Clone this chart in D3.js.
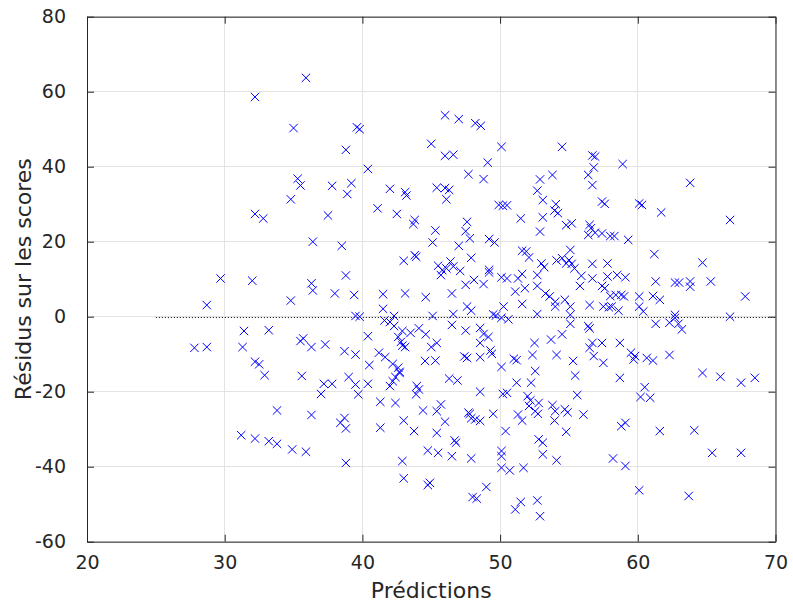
<!DOCTYPE html>
<html>
<head>
<meta charset="utf-8">
<script src="https://cdn.jsdelivr.net/npm/d3@7"></script>
<style>
  html, body { margin: 0; padding: 0; background: #fff; }
  svg { display: block; }
  text { font-family: "DejaVu Sans", sans-serif; fill: #262626; }
</style>
</head>
<body>
<svg id="chart" width="793" height="604"></svg>
<script>
// ---- data ----
const predictions = [
35.9,32.2,35.0,39.6,39.8,38.8,
46.0,47.0,48.2,48.6,45.0,46.0,46.6,49.1,
50.1,54.5,56.7,56.9,58.9,
35.3,35.5,37.8,39.2,38.9,34.8,32.2,32.8,37.5,36.4,38.5,38.8,29.7,32.0,36.3,36.4,38.0,39.4,34.8,28.7,39.5,39.8,
40.4,47.7,48.8,42.0,43.1,43.2,45.4,46.0,46.3,46.1,41.1,42.5,43.8,43.7,45.3,45.1,47.6,47.5,47.8,47.0,49.2,49.6,47.9,43.0,43.8,43.9,
45.5,46.4,46.6,46.1,47.1,45.7,45.8,
49.2,49.2,47.5,48.1,48.8,41.5,43.1,44.6,46.5,41.5,42.3,45.1,46.6,47.6,47.9,49.5,49.7,
56.8,56.4,53.8,52.9,56.7,52.7,53.1,49.9,50.2,50.5,57.4,57.6,54.05,53.95,54.2,51.5,53.1,52.9,54.8,55.2,56.5,56.6,56.4,56.9,57.4,58.0,58.3,59.3,
51.6,51.9,52.1,55.1,54.1,54.5,55.0,55.2,55.4,54.8,53.0,53.2,52.7,56.7,57.8,50.1,50.5,51.3,51.6,51.1,51.8,52.7,53.3,55.9,55.8,56.7,57.8,58.5,59.1,
57.4,57.6,58.0,58.4,58.8,59.0,53.6,54.0,54.0,54.7,55.1,51.6,50.25,56.5,57.5,57.9,58.1,58.6,52.7,55.1,
63.8,60.1,60.3,61.7,66.7,61.2,64.7,61.3,62.7,63.0,63.8,63.8,65.3,60.1,61.1,61.6,67.8,60.1,60.4,62.7,66.7,
31.4,33.2,27.8,28.7,31.3,35.5,35.7,36.3,37.3,38.7,39.5,32.2,32.5,32.9,35.6,37.2,37.8,37.0,39.0,39.5,39.7,33.8,36.3,38.7,38.4,38.8,31.2,32.2,33.2,33.8,34.9,35.9,38.8,
41.6,42.0,42.3,40.4,42.9,43.5,44.1,44.6,42.6,42.8,42.9,43.1,45.0,45.4,46.5,47.5,48.55,48.8,49.15,48.55,41.2,41.65,40.5,42.2,42.6,42.7,44.55,45.3,47.4,47.6,48.55,49.3,49.4,
40.4,42.0,42.2,42.4,42.7,43.95,44.1,43.9,46.3,46.9,48.55,41.3,42.4,44.4,45.4,45.7,46.0,47.7,47.8,47.9,48.2,48.55,49.5,41.3,43.0,43.75,45.4,46.7,46.8,44.75,45.5,46.5,47.9,42.9,43.0,44.75,44.9,49.0,48.0,48.3,
50.1,50.6,55.1,54.5,53.7,56.4,56.5,52.5,56.7,56.5,57.4,58.7,59.5,59.8,59.7,51.0,51.2,52.35,54.1,55.3,56.8,57.5,50.1,52.55,55.45,58.7,51.2,52.25,
50.2,50.5,52.0,52.2,52.8,52.1,52.55,52.75,51.3,51.6,55.6,53.8,54.0,53.95,54.7,54.9,56.05,54.8,50.4,58.8,59.1,52.8,53.1,53.1,54.1,50.1,50.1,50.1,50.7,51.7,58.2,59.1,51.1,51.5,52.7,52.9,
61.3,62.3,62.7,62.95,63.2,60.65,61.1,62.3,64.7,66.0,67.5,68.5,60.5,60.2,60.9,61.6,64.1,65.4,67.5,60.1,63.7
];
const residuals = [
63.7,58.6,50.3,50.5,50.0,44.5,
53.7,52.7,51.6,50.9,46.1,42.9,43.2,41.1,
45.3,45.3,43.0,42.7,40.7,
36.8,35.0,34.9,35.6,32.7,31.3,27.4,26.2,27.0,20.0,18.9,11.0,10.2,9.6,8.9,7.0,6.2,5.8,4.3,3.1,0.2,0.0,
39.4,38.0,36.7,34.1,33.2,32.3,34.4,34.3,33.8,31.3,28.9,27.4,25.8,24.7,23.0,19.8,25.3,22.8,20.9,18.9,20.7,19.8,15.7,14.9,16.4,16.0,
13.6,14.7,13.4,12.9,12.2,11.1,12.4,
12.5,11.8,8.5,9.8,8.7,6.0,6.2,5.2,6.2,2.1,0.2,0.2,0.7,2.7,1.6,0.6,0.3,
39.8,37.8,37.8,36.6,35.1,33.6,31.1,29.8,29.6,29.7,30.7,30.1,30.0,28.3,27.6,26.2,26.5,22.7,24.4,24.9,24.5,23.6,21.8,22.4,22.2,21.5,21.5,20.5,
17.6,17.4,15.8,17.8,15.0,15.6,15.1,14.1,12.9,14.2,14.2,13.2,11.1,14.1,14.2,10.5,10.2,10.2,11.4,6.7,7.6,8.2,6.2,10.9,8.2,10.2,10.7,11.1,10.5,
8.2,7.6,5.5,5.8,5.8,5.4,5.4,4.0,2.7,4.5,2.7,3.4,2.7,3.1,2.7,2.5,2.7,1.6,0.7,0.5,
35.7,30.2,29.8,27.8,25.8,16.7,14.4,9.4,9.1,9.1,9.4,8.0,9.4,5.4,5.5,4.5,5.4,2.7,1.4,0.5,0.0,
-3.8,-3.6,-8.3,-8.1,-8.1,-6.5,-5.8,-8.1,-7.4,-9.2,-10.1,-12.0,-12.7,-15.6,-15.8,-17.9,-17.9,-20.6,-16.1,-18.1,-20.7,-25.0,-26.2,-27.0,-28.3,-29.8,-31.6,-32.5,-33.2,-33.9,-35.4,-36.0,-39.0,
-1.0,-1.4,-2.5,-5.2,-3.8,-4.3,-3.1,-4.7,-5.4,-6.7,-7.7,-8.1,-8.1,-7.0,-2.2,-3.7,-3.0,-4.6,-5.4,-7.0,-9.6,-10.8,-12.9,-12.6,-13.6,-14.7,-11.8,-11.7,-10.6,-11.0,-10.8,-9.0,-9.9,
-17.9,-18.5,-17.2,-16.1,-15.0,-18.5,-19.4,-20.7,-16.5,-17.0,-20.0,-22.7,-23.0,-25.0,-25.2,-23.4,-28.0,-25.6,-25.9,-27.1,-27.4,-27.8,-25.9,-29.6,-27.7,-30.5,-31.0,-33.0,-33.6,-35.7,-36.3,-37.2,-37.8,-38.5,-43.1,-44.9,-44.3,-45.4,-48.1,-48.5,
-0.3,-0.7,-1.9,-4.7,-6.1,-2.5,-3.1,-7.0,-7.0,-8.3,-7.0,-7.0,-9.6,-10.5,-11.4,-11.2,-11.6,-10.2,-10.2,-11.8,-10.5,-12.3,-13.4,-14.5,-15.7,-16.3,-17.6,-17.6,
-20.6,-20.3,-21.2,-22.3,-23.0,-23.8,-25.2,-25.9,-26.1,-27.7,-20.9,-23.6,-25.2,-27.7,-24.7,-25.5,-26.1,-30.7,-30.5,-29.2,-28.3,-32.7,-33.6,-36.7,-38.3,-35.8,-37.2,-40.3,-41.0,-40.3,-37.8,-39.8,-51.4,-49.4,-49.0,-53.2,
-1.9,-1.6,-0.3,-1.9,-3.4,-11.0,-11.7,-10.2,-15.0,-16.0,-17.6,-16.3,-18.8,-21.4,-21.6,-30.5,-30.3,-36.3,-36.3,-46.3,-47.8
];
const xTicks = [20, 30, 40, 50, 60, 70];
const yTicks = [-60, -40, -20, 0, 20, 40, 60, 80];
const xDomain = [20, 70];
const yDomain = [-60, 80];
const zeroLineRange = [25, 70];
const xLabel = "Prédictions";
const yLabel = "Résidus sur les scores";

// ---- layout ----
const W = 793, H = 604;
const plot = { left: 87, right: 775.5, top: 16.7, bottom: 541.7 };

const svg = d3.select("#chart");
const x = d3.scaleLinear().domain(xDomain).range([plot.left, plot.right]);
const y = d3.scaleLinear().domain(yDomain).range([plot.bottom, plot.top]);

// grid
const grid = svg.append("g").attr("shape-rendering", "crispEdges");
grid.selectAll("line.gx").data(xTicks).join("line")
  .attr("x1", d => x(d)).attr("x2", d => x(d))
  .attr("y1", plot.top).attr("y2", plot.bottom)
  .attr("stroke", "#e3e3e3").attr("stroke-width", 1);
grid.selectAll("line.gy").data(yTicks).join("line")
  .attr("y1", d => y(d)).attr("y2", d => y(d))
  .attr("x1", plot.left).attr("x2", plot.right)
  .attr("stroke", "#e3e3e3").attr("stroke-width", 1);

// zero reference line (dotted)
svg.append("line")
  .attr("x1", x(zeroLineRange[0])).attr("x2", x(zeroLineRange[1]))
  .attr("y1", Math.round(y(0)) + 0.5).attr("y2", Math.round(y(0)) + 0.5)
  .attr("stroke", "#000").attr("stroke-width", 1)
  .attr("stroke-dasharray", "1,2");

// points
const pts = predictions.map((p, i) => [p, residuals[i]]);
const s = 4.2;
svg.append("g").selectAll("path").data(pts).join("path")
  .attr("transform", d => `translate(${x(d[0])},${y(d[1])})`)
  .attr("d", `M${-s},${-s}L${s},${s}M${-s},${s}L${s},${-s}`)
  .attr("stroke", "#0000ff").attr("stroke-width", 1).attr("fill", "none");

// axes (MATLAB box style, inward ticks)
const tickLen = 7;
const axisColor = "#262626";
const fmt = d => String(d);
const bottomAxis = d3.axisBottom(x).tickValues(xTicks).tickFormat(fmt).tickSizeInner(-tickLen).tickSizeOuter(0).tickPadding(14);
const topAxis = d3.axisTop(x).tickValues(xTicks).tickSizeInner(-tickLen).tickSizeOuter(0).tickFormat("");
const leftAxis = d3.axisLeft(y).tickValues(yTicks).tickFormat(fmt).tickSizeInner(-tickLen).tickSizeOuter(0).tickPadding(21);
const rightAxis = d3.axisRight(y).tickValues(yTicks).tickSizeInner(-tickLen).tickSizeOuter(0).tickFormat("");

function style(g) {
  g.select(".domain").attr("stroke", axisColor).attr("stroke-width", 1);
  g.selectAll(".tick line").attr("stroke", axisColor).attr("stroke-width", 1);
  g.selectAll(".tick text").attr("fill", axisColor).style("font-size", "19px")
    .style("font-family", "'DejaVu Sans', sans-serif");
}
svg.append("g").attr("transform", `translate(0,${plot.bottom})`).call(bottomAxis).call(style);
svg.append("g").attr("transform", `translate(0,${plot.top})`).call(topAxis).call(style);
svg.append("g").attr("transform", `translate(${plot.left},0)`).call(leftAxis).call(style);
svg.append("g").attr("transform", `translate(${plot.right},0)`).call(rightAxis).call(style);

// labels
svg.append("text")
  .attr("x", (plot.left + plot.right) / 2).attr("y", 598)
  .attr("text-anchor", "middle").style("font-size", "22px")
  .text(xLabel);
svg.append("text")
  .attr("transform", `translate(31,${(plot.top + plot.bottom) / 2}) rotate(-90)`)
  .attr("text-anchor", "middle").style("font-size", "22px")
  .text(yLabel);
</script>
</body>
</html>
